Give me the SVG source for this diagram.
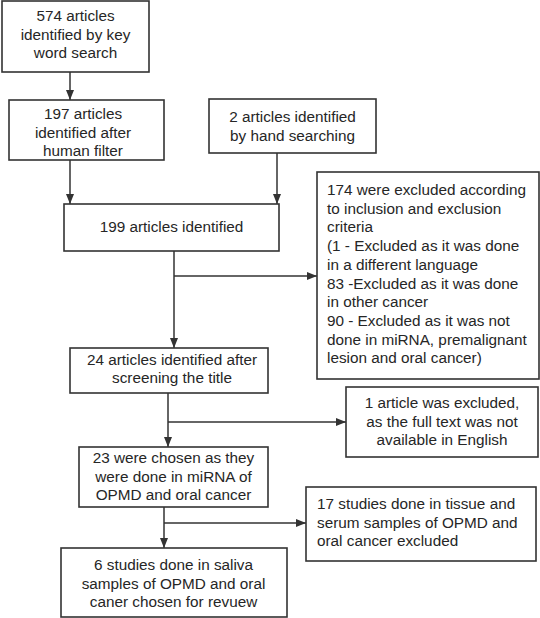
<svg xmlns="http://www.w3.org/2000/svg" width="540" height="618" viewBox="0 0 540 618">
<defs>
<style>
rect{fill:#fff;stroke:#333;stroke-width:1.6}
text{font-family:"Liberation Sans",Arial,sans-serif;font-size:15.3px;fill:#262626}
.c{text-anchor:middle}
.ln{fill:none;stroke:#333;stroke-width:1.5}
</style>
<marker id="ah" markerUnits="userSpaceOnUse" markerWidth="10" markerHeight="10" viewBox="0 0 10 10" refX="10" refY="5" orient="auto">
<path d="M0,1 L10,5 L0,9 Z" fill="#333"/>
</marker>
</defs>
<rect width="540" height="618" style="fill:#fff;stroke:none"/>
<g id="connectors">
<line class="ln" x1="70" y1="72" x2="70" y2="100" marker-end="url(#ah)"/>
<line class="ln" x1="70" y1="160" x2="70" y2="204" marker-end="url(#ah)"/>
<line class="ln" x1="277" y1="153" x2="277" y2="204" marker-end="url(#ah)"/>
<line class="ln" x1="174" y1="251" x2="174" y2="348" marker-end="url(#ah)"/>
<line class="ln" x1="174" y1="276" x2="317" y2="276" marker-end="url(#ah)"/>
<line class="ln" x1="168" y1="393" x2="168" y2="447" marker-end="url(#ah)"/>
<line class="ln" x1="168" y1="422" x2="346" y2="422" marker-end="url(#ah)"/>
<line class="ln" x1="164" y1="507" x2="164" y2="548" marker-end="url(#ah)"/>
<line class="ln" x1="164" y1="523" x2="306" y2="523" marker-end="url(#ah)"/>
</g>
<g id="n1">
<rect x="2" y="1" width="147" height="71"/>
<text class="c" x="75.5" y="21">574 articles</text>
<text class="c" x="75.5" y="39.5">identified by key</text>
<text class="c" x="75.5" y="58">word search</text>
</g>
<g id="n2">
<rect x="9" y="100" width="155" height="60"/>
<text class="c" x="83" y="119">197 articles</text>
<text class="c" x="83" y="137.5">identified after</text>
<text class="c" x="83" y="155.5">human filter</text>
</g>
<g id="n3">
<rect x="209" y="99" width="167" height="54"/>
<text class="c" x="292.5" y="122">2 articles identified</text>
<text class="c" x="292.5" y="140.5">by hand searching</text>
</g>
<g id="n4">
<rect x="64" y="204" width="215" height="47"/>
<text class="c" x="171.5" y="232">199 articles identified</text>
</g>
<g id="n5">
<rect x="317" y="172" width="222" height="207"/>
<text x="327" y="195">174 were excluded according</text>
<text x="327" y="213.7">to inclusion and exclusion</text>
<text x="327" y="232.4">criteria</text>
<text x="327" y="251.1">(1 - Excluded as it was done</text>
<text x="327" y="269.8">in a different language</text>
<text x="327" y="288.5">83 -Excluded as it was done</text>
<text x="327" y="307.2">in other cancer</text>
<text x="327" y="325.9">90 - Excluded as it was not</text>
<text x="327" y="344.6">done in miRNA, premalignant</text>
<text x="327" y="363.3">lesion and oral cancer)</text>
</g>
<g id="n6">
<rect x="70" y="348" width="198" height="45"/>
<text class="c" x="172" y="365">24 articles identified after</text>
<text class="c" x="172" y="383">screening the title</text>
</g>
<g id="n7">
<rect x="346" y="387" width="192" height="70"/>
<text class="c" x="442" y="408">1 article was excluded,</text>
<text class="c" x="442" y="427">as the full text was not</text>
<text class="c" x="442" y="445">available in English</text>
</g>
<g id="n8">
<rect x="79" y="447" width="189" height="60"/>
<text class="c" x="173.5" y="463">23 were chosen as they</text>
<text class="c" x="173.5" y="482">were done in miRNA of</text>
<text class="c" x="173.5" y="500">OPMD and oral cancer</text>
</g>
<g id="n9">
<rect x="306" y="487" width="230" height="74"/>
<text x="317" y="509">17 studies done in tissue and</text>
<text x="317" y="528">serum samples of OPMD and</text>
<text x="317" y="546">oral cancer excluded</text>
</g>
<g id="n10">
<rect x="61" y="548" width="226" height="69"/>
<text class="c" x="173.5" y="570">6 studies done in saliva</text>
<text class="c" x="173.5" y="588.5">samples of OPMD and oral</text>
<text class="c" x="173.5" y="607">caner chosen for revuew</text>
</g>
</svg>
